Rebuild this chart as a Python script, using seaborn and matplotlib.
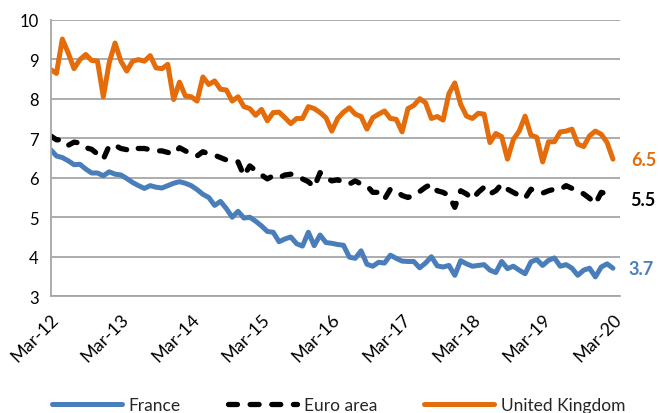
import pandas as pd
import matplotlib.pyplot as plt
import seaborn as sns

# monthly unemployment-type rates, Mar-12 .. Mar-20
france = [6.71, 6.55, 6.51, 6.43, 6.33, 6.34, 6.22, 6.12, 6.12, 6.05,
          6.15, 6.09, 6.07, 5.98, 5.88, 5.80, 5.73, 5.80, 5.76, 5.74,
          5.80, 5.86, 5.90, 5.86, 5.80, 5.70, 5.58, 5.50, 5.30, 5.40,
          5.22, 5.00, 5.15, 4.98, 5.00, 4.90, 4.78, 4.64, 4.62, 4.38,
          4.45, 4.50, 4.33, 4.27, 4.62, 4.28, 4.55, 4.36, 4.34, 4.31,
          4.29, 3.99, 3.96, 4.15, 3.81, 3.76, 3.86, 3.84, 4.04, 3.96,
          3.89, 3.88, 3.88, 3.72, 3.84, 4.00, 3.77, 3.74, 3.78, 3.53,
          3.90, 3.82, 3.76, 3.78, 3.80, 3.66, 3.60, 3.88, 3.70, 3.76,
          3.66, 3.57, 3.87, 3.93, 3.78, 3.91, 3.97, 3.76, 3.80, 3.71,
          3.53, 3.66, 3.71, 3.49, 3.74, 3.82, 3.71]

euro_area = [7.06, 6.96, 6.96, 6.82, 6.90, 6.88, 6.76, 6.72, 6.60, 6.47,
             6.81, 6.82, 6.74, 6.71, 6.79, 6.74, 6.74, 6.71, 6.68, 6.68,
             6.64, 6.60, 6.76, 6.68, 6.60, 6.55, 6.66, 6.60, 6.57, 6.51,
             6.45, 6.43, 6.40, 6.05, 6.30, 6.18, 6.07, 5.97, 6.05, 6.00,
             6.07, 6.09, 6.05, 5.97, 5.90, 5.76, 6.13, 6.00, 5.92, 5.95,
             5.88, 5.84, 5.92, 5.84, 5.80, 5.63, 5.63, 5.46, 5.71, 5.67,
             5.55, 5.50, 5.55, 5.65, 5.76, 5.84, 5.67, 5.63, 5.55, 5.25,
             5.67, 5.59, 5.46, 5.63, 5.76, 5.59, 5.67, 5.84, 5.71, 5.63,
             5.55, 5.48, 5.71, 5.63, 5.61, 5.67, 5.71, 5.70, 5.80, 5.73,
             5.67, 5.59, 5.48, 5.34, 5.63, 5.59, 5.55]

uk = [8.74, 8.64, 9.51, 9.16, 8.76, 8.99, 9.12, 8.97, 8.95, 8.05,
      8.91, 9.41, 8.95, 8.70, 8.95, 8.99, 8.95, 9.09, 8.78, 8.76,
      8.87, 7.98, 8.42, 8.07, 8.05, 7.94, 8.55, 8.36, 8.45, 8.24,
      8.22, 7.94, 8.05, 7.80, 7.75, 7.58, 7.73, 7.44, 7.65, 7.66,
      7.52, 7.37, 7.50, 7.50, 7.80, 7.75, 7.65, 7.52, 7.18, 7.50,
      7.66, 7.77, 7.61, 7.55, 7.23, 7.52, 7.61, 7.69, 7.50, 7.48,
      7.16, 7.75, 7.83, 8.00, 7.90, 7.50, 7.55, 7.46, 8.13, 8.40,
      7.86, 7.56, 7.50, 7.63, 7.61, 6.89, 7.12, 7.04, 6.47, 6.97,
      7.18, 7.56, 7.08, 7.02, 6.40, 6.91, 6.91, 7.16, 7.18, 7.23,
      6.85, 6.79, 7.06, 7.18, 7.10, 6.89, 6.47]

tick_labels = ["Mar-12", "Mar-13", "Mar-14", "Mar-15", "Mar-16",
               "Mar-17", "Mar-18", "Mar-19", "Mar-20"]
end_labels = ["3.7", "5.5", "6.5"]

months = list(range(len(france)))
df = pd.DataFrame({"month": months, "France": france,
                   "Euro area": euro_area, "United Kingdom": uk})

sns.set_style("white")
plt.rcParams["font.family"] = ["Lato", "DejaVu Sans"]

BLUE = "#4a7ebb"
ORANGE = "#e46c0a"
GRID = "#a6a6a6"

fig = plt.figure(figsize=(6.59, 4.14), dpi=100)
ax = fig.add_axes([0.0768, 0.282, 0.864, 0.668])

sns.lineplot(data=df, x="month", y="France", ax=ax, color=BLUE,
             linewidth=3.6, label="France")
sns.lineplot(data=df, x="month", y="Euro area", ax=ax, color="black",
             linewidth=3.8, label="Euro area",
             linestyle=(0, (1.7, 2.4)), dash_capstyle="round")
sns.lineplot(data=df, x="month", y="United Kingdom", ax=ax, color=ORANGE,
             linewidth=3.6, label="United Kingdom")

ax.set_xlim(0, 97.2)
ax.set_ylim(3, 10)
ax.set_yticks(range(3, 11))
ax.set_xticks(range(0, 97, 12))
ax.set_xticklabels(tick_labels, rotation=45, ha="right", rotation_mode="anchor")
ax.set_xlabel("")
ax.set_ylabel("")
ax.tick_params(axis="both", labelsize=12, colors="black", length=5,
               width=1.1, color=GRID, direction="out")
ax.tick_params(axis="x", pad=5, labelsize=13)
ax.grid(axis="y", color=GRID, linewidth=1.3)
ax.set_axisbelow(True)
for side in ["top", "right"]:
    ax.spines[side].set_visible(False)
for side in ["left", "bottom"]:
    ax.spines[side].set_color(GRID)
    ax.spines[side].set_linewidth(1.3)

# end-of-series value labels
ax.text(98.6, 3.69, end_labels[0], color=BLUE, fontsize=13, fontweight="bold",
        va="center", ha="left", clip_on=False)
ax.text(99.0, 5.46, end_labels[1], color="black", fontsize=13,
        fontweight="bold", va="center", ha="left", clip_on=False)
ax.text(99.2, 6.47, end_labels[2], color=ORANGE, fontsize=13,
        fontweight="bold", va="center", ha="left", clip_on=False)

handles, labels = ax.get_legend_handles_labels()
ax.get_legend().remove()
fig.legend(handles, labels, loc="center", bbox_to_anchor=(0.514, 0.02),
           ncol=3, frameon=False, fontsize=12.5, handlelength=4.0,
           handletextpad=0.4, columnspacing=2.7)

fig.savefig("out.png", dpi=100)
